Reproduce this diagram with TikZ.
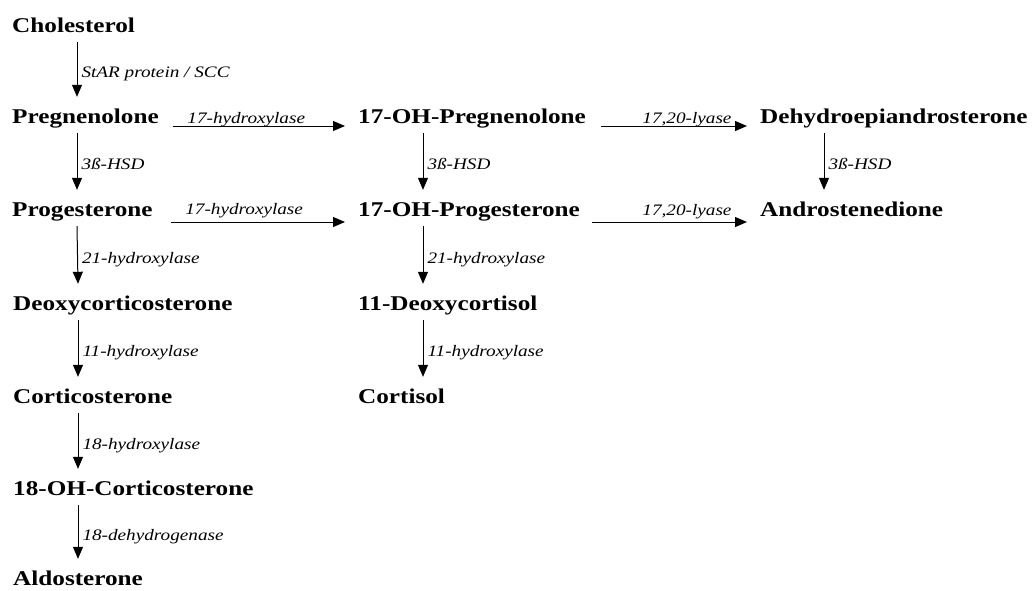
\documentclass[tikz,border=0pt]{standalone}
\usepackage{fontspec}
\newfontfamily\chemfont[FakeStretch=1.2]{Liberation Serif}
\usetikzlibrary{arrows.meta}

\begin{document}
\begin{tikzpicture}[x=1pt,y=-1pt,
  chem/.style={font=\chemfont\bfseries\fontsize{21}{25}\selectfont,anchor=base west,inner sep=0pt,text height=26pt,text depth=10pt},
  enz/.style={font=\chemfont\itshape\fontsize{16}{19}\selectfont,inner sep=0pt},
  rxn/.style={line width=1pt,-{Triangle[length=12pt,width=10pt]}},
  vlab/.style={enz,midway,anchor=base west,xshift=4pt,yshift=-8pt}]
\useasboundingbox (0,0) rectangle (1033,590);
% left column
\node[chem] (chol) at (12,32) {Cholesterol};
\node[chem] (preg) at (12,123) {Pregnenolone};
\node[chem] (prog) at (12,216) {Progesterone};
\node[chem] (doc) at (13,310) {Deoxycorticosterone};
\node[chem] (cort) at (13,403) {Corticosterone};
\node[chem] (ohcort) at (13,495) {18-OH-Corticosterone};
\node[chem] (aldo) at (13,585) {Aldosterone};
% middle column
\node[chem] (ohpreg) at (358,123) {17-OH-Pregnenolone};
\node[chem] (ohprog) at (358,216) {17-OH-Progesterone};
\node[chem] (deoxy) at (358,310) {11-Deoxycortisol};
\node[chem] (cortisol) at (358,403) {Cortisol};
% right column
\node[chem] (dhea) at (760,123) {Dehydroepiandrosterone};
\node[chem] (andro) at (760,216) {Androstenedione};

\draw[rxn] ([xshift=65pt]chol.south west) -- ([xshift=65pt]preg.north west) node[vlab] {StAR protein / SCC};
\draw[rxn] ([xshift=65pt]preg.south west) -- ([xshift=65pt]prog.north west) node[vlab] {3ß-HSD};
\draw[rxn] ([xshift=65pt]prog.south west) -- ([xshift=65pt]doc.north west) node[vlab] {21-hydroxylase};
\draw[rxn] ([xshift=65pt]doc.south west) -- ([xshift=65pt]cort.north west) node[vlab] {11-hydroxylase};
\draw[rxn] ([xshift=65pt]cort.south west) -- ([xshift=65pt]ohcort.north west) node[vlab] {18-hydroxylase};
\draw[rxn] ([xshift=65pt]ohcort.south west) -- ([xshift=65pt]aldo.north west) node[vlab] {18-dehydrogenase};
\draw[rxn] ([xshift=65pt]ohpreg.south west) -- ([xshift=65pt]ohprog.north west) node[vlab] {3ß-HSD};
\draw[rxn] ([xshift=65pt]ohprog.south west) -- ([xshift=65pt]deoxy.north west) node[vlab] {21-hydroxylase};
\draw[rxn] ([xshift=65pt]deoxy.south west) -- ([xshift=65pt]cortisol.north west) node[vlab] {11-hydroxylase};
\draw[rxn] ([xshift=64pt]dhea.south west) -- ([xshift=64pt]andro.north west) node[vlab] {3ß-HSD};

\draw[rxn] ([shift={(14pt,-3pt)}]preg.base east) -- ([shift={(-13pt,-3pt)}]ohpreg.base west) node[enz,pos=0,anchor=base west,xshift=14pt,yshift=3pt] {17-hydroxylase};
\draw[rxn] ([shift={(18pt,-6pt)}]prog.base east) -- ([shift={(-13pt,-6pt)}]ohprog.base west) node[enz,pos=0,anchor=base west,xshift=14pt,yshift=8pt] {17-hydroxylase};
\draw[rxn] ([shift={(15pt,-3pt)}]ohpreg.base east) -- ([shift={(-13pt,-3pt)}]dhea.base west) node[enz,pos=1,anchor=base east,xshift=-15pt,yshift=3pt] {17,20-lyase};
\draw[rxn] ([shift={(12pt,-6pt)}]ohprog.base east) -- ([shift={(-13pt,-6pt)}]andro.base west) node[enz,pos=1,anchor=base east,xshift=-15pt,yshift=7pt] {17,20-lyase};
\end{tikzpicture}
\end{document}
